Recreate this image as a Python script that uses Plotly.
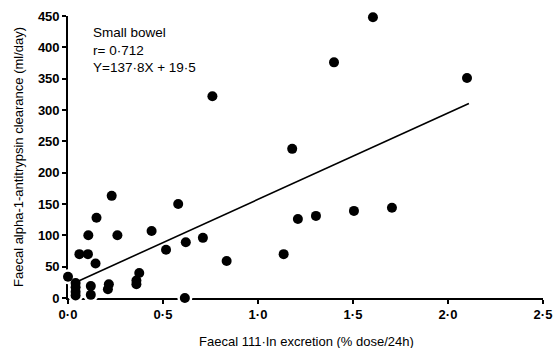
import plotly.graph_objects as go

# Data
x_vals = [0.76, 1.605, 1.40, 2.10, 1.18, 1.21, 1.305, 1.505, 1.705, 1.135,
          0.23, 0.58, 0.15, 0.107, 0.26, 0.44, 0.71, 0.62, 0.516, 0.06,
          0.105, 0.145, 0.835, 0.375, 0.36, 0.36, 0.215, 0.21, 0.12, 0.12,
          0.615, 0.0, 0.04, 0.04, 0.04, 0.04]
y_vals = [322, 448, 376, 351, 238, 126, 131, 139, 144, 70,
          163, 150, 128, 100, 100, 107, 96, 89, 77, 70,
          70, 55, 59, 40, 28, 22, 22, 14, 19, 5,
          0, 34, 24, 17, 10, 4]

slope = 137.8
intercept = 19.5
line_x = [0.05, 2.11]
line_y = [slope * v + intercept for v in line_x]

x_tickvals = [0, 0.5, 1.0, 1.5, 2.0, 2.5]
x_ticktext = ["0·0", "0·5", "1·0", "1·5", "2·0", "2·5"]
y_tickvals = [0, 50, 100, 150, 200, 250, 300, 350, 400, 450]
y_ticktext = [str(v) for v in y_tickvals]

x_title = "Faecal 111·In excretion (% dose/24h)"
y_title = "Faecal alpha-1-antitrypsin clearance (ml/day)"

FONT = "Liberation Sans, Arial, sans-serif"

fig = go.Figure()
# white halo beneath the dots (interrupts the axis lines as in the print)
fig.add_trace(go.Scatter(
    x=x_vals, y=y_vals, mode="markers",
    marker=dict(color="white", size=15), hoverinfo="skip", cliponaxis=False))
fig.add_trace(go.Scatter(
    x=line_x, y=line_y, mode="lines",
    line=dict(color="black", width=1.6), hoverinfo="skip"))
fig.add_trace(go.Scatter(
    x=x_vals, y=y_vals, mode="markers",
    marker=dict(color="black", size=10, line=dict(width=0)),
    cliponaxis=False))

axis_common = dict(
    showgrid=False, zeroline=False, showline=True, linecolor="black",
    linewidth=1.6, ticks="outside", ticklen=4, tickwidth=1.6,
    tickcolor="black", layer="below traces", automargin=False,
    tickfont=dict(family=FONT, size=13, color="black", weight="bold"),
)

PLOT_L, PLOT_R, PLOT_T, PLOT_B = 68, 543, 16, 298


def px_to_paper_x(px):
    return (px - PLOT_L) / (PLOT_R - PLOT_L)


def px_to_paper_y(py):
    return (PLOT_B - py) / (PLOT_B - PLOT_T)


fig.update_layout(
    width=553, height=348,
    margin=dict(l=68, r=10, t=16, b=50),
    plot_bgcolor="white", paper_bgcolor="white",
    showlegend=False,
    xaxis=dict(range=[0, 2.5], tickvals=x_tickvals, ticktext=x_ticktext,
               **axis_common),
    yaxis=dict(range=[0, 450], tickvals=y_tickvals, ticktext=y_ticktext,
               **axis_common),
    annotations=[
        dict(xref="paper", yref="paper", x=px_to_paper_x(91),
             y=px_to_paper_y(23), xanchor="left", yanchor="top",
             align="left", showarrow=False,
             text="Small bowel<br>r= 0·712<br>Y=137·8X + 19·5",
             font=dict(family=FONT, size=13.5, color="black")),
        dict(xref="paper", yref="paper", x=px_to_paper_x(306),
             y=px_to_paper_y(341), xanchor="center", yanchor="middle",
             showarrow=False, text=x_title,
             font=dict(family=FONT, size=13, color="black")),
        dict(xref="paper", yref="paper", x=px_to_paper_x(18),
             y=px_to_paper_y(157), xanchor="center", yanchor="middle",
             textangle=-90, showarrow=False, text=y_title,
             font=dict(family=FONT, size=13, color="black")),
    ],
)

fig.write_html("out.html")
